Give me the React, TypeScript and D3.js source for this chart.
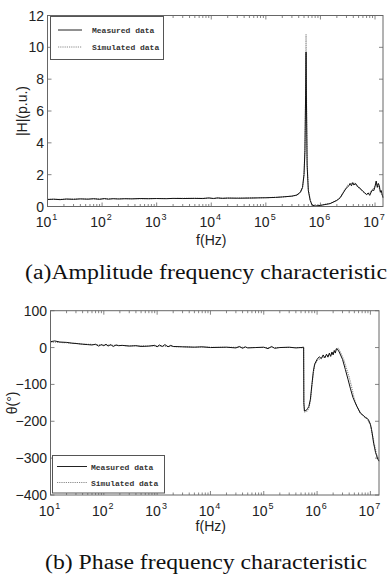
import React, { useEffect, useRef } from "react";
import * as d3 from "d3";

// amplitude, |H| in p.u.
const ampMeasFreq = [10, 13, 17, 22, 30, 40, 55, 70, 90, 110, 130, 160, 200, 260, 350, 500, 700, 1e3, 1.5e3, 2e3, 3e3, 5e3, 7e3, 9e3, 1.1e4, 1.3e4, 1.6e4, 2e4, 3e4, 5e4, 7e4, 1e5, 1.5e5, 2e5, 3e5, 3.7e5, 4.3e5, 4.7e5, 5e5, 5.2e5, 5.35e5, 5.45e5, 5.55e5, 5.7e5, 6e5, 6.5e5, 7e5, 8e5, 1e6, 1.5e6, 2e6, 2.3e6, 2.6e6, 2.9e6, 3.1e6, 3.3e6, 3.5e6, 3.7e6, 3.9e6, 4.1e6, 4.4e6, 4.8e6, 5.3e6, 6e6, 6.5e6, 7e6, 7.5e6, 8e6, 8.5e6, 9e6, 9.5e6, 1e7, 1.05e7, 1.1e7, 1.15e7, 1.2e7, 1.25e7, 1.3e7, 1.4e7];
const ampMeasured = [0.44, 0.46, 0.43, 0.47, 0.45, 0.48, 0.46, 0.49, 0.45, 0.5, 0.46, 0.49, 0.47, 0.49, 0.48, 0.5, 0.49, 0.5, 0.49, 0.51, 0.5, 0.51, 0.5, 0.54, 0.5, 0.54, 0.51, 0.53, 0.52, 0.53, 0.54, 0.55, 0.57, 0.6, 0.65, 0.72, 0.9, 1.2, 2.0, 3.5, 7.0, 9.7, 6.5, 2.6, 1.0, 0.38, 0.1, 0.02, 0.07, 0.18, 0.38, 0.55, 0.85, 1.1, 1.2, 1.3, 1.45, 1.3, 1.5, 1.35, 1.45, 1.25, 1.15, 0.95, 0.85, 0.75, 0.85, 0.7, 0.9, 1.05, 1.0, 1.25, 1.6, 1.2, 1.45, 1.3, 0.9, 1.0, 0.55];
const ampSimFreq = [10, 100, 1e3, 1e4, 1e5, 2e5, 3e5, 3.7e5, 4.3e5, 4.7e5, 5e5, 5.2e5, 5.35e5, 5.45e5, 5.55e5, 5.7e5, 6e5, 6.5e5, 7e5, 8e5, 1e6, 1.5e6, 2e6, 2.3e6, 2.6e6, 2.9e6, 3.2e6, 3.7e6, 4.2e6, 5e6, 6e6, 7e6, 8e6, 9e6, 1e7, 1.05e7, 1.15e7, 1.25e7, 1.4e7];
const ampSimulated = [0.45, 0.48, 0.5, 0.52, 0.55, 0.6, 0.65, 0.72, 0.9, 1.2, 2.0, 3.5, 7.0, 10.8, 7.0, 2.8, 1.1, 0.4, 0.12, 0.03, 0.08, 0.2, 0.4, 0.55, 0.85, 1.15, 1.35, 1.45, 1.45, 1.2, 0.95, 0.75, 0.85, 1.05, 1.3, 1.5, 1.3, 1.0, 0.55];

// phase, degrees
const phaseMeasFreq = [10, 12, 15, 20, 25, 30, 40, 50, 60, 70, 80, 90, 100, 110, 120, 135, 150, 170, 190, 220, 300, 400, 500, 700, 900, 1000, 1100, 1250, 1400, 1600, 1800, 2000, 3000, 5000, 7000, 1e4, 2e4, 3e4, 3.5e4, 4e4, 4.5e4, 5e4, 7e4, 1e5, 1.2e5, 1.4e5, 1.6e5, 2e5, 3e5, 4e5, 5e5, 5.6e5, 5.65e5, 5.8e5, 6.2e5, 6.6e5, 7e5, 7.5e5, 8e5, 8.5e5, 9e5, 1e6, 1.1e6, 1.2e6, 1.3e6, 1.4e6, 1.5e6, 1.6e6, 1.7e6, 1.8e6, 1.9e6, 2e6, 2.1e6, 2.2e6, 2.3e6, 2.4e6, 2.6e6, 3e6, 3.4e6, 3.8e6, 4.2e6, 4.7e6, 5.2e6, 5.6e6, 6.5e6, 7.5e6, 8e6, 8.7e6, 9.2e6, 1e7, 1.05e7, 1.1e7, 1.15e7, 1.2e7, 1.25e7, 1.3e7, 1.35e7, 1.45e7];
const phaseMeasured = [16, 18, 15, 14, 12, 11, 9, 8, 7, 9, 4, 8, 5, 9, 4, 8, 3, 7, 5, 6, 4, 5, 3, 4, 6, 2, 7, 3, 8, 2, 6, 3, 2, 1, 2, 0, 1, -1, 3, -2, 2, -1, 0, 1, -3, 3, -2, 0, 1, -1, 0, 1, -150, -172, -171, -166, -160, -140, -100, -65, -45, -32, -25, -30, -20, -28, -18, -26, -15, -24, -12, -20, -8, -15, -3, -4, -12, -32, -60, -86, -110, -135, -150, -160, -178, -185, -190, -192, -196, -208, -222, -240, -260, -272, -285, -292, -300, -308];
const phaseSimFreq = [10, 20, 50, 100, 300, 1e3, 3e3, 1e4, 1e5, 5e5, 5.6e5, 5.65e5, 5.8e5, 6.5e5, 7e5, 7.5e5, 8e5, 8.5e5, 9e5, 1e6, 1.2e6, 1.5e6, 2e6, 2.3e6, 2.5e6, 2.8e6, 3.2e6, 4e6, 4.5e6, 5e6, 5.6e6, 6.5e6, 7.5e6, 8.7e6, 1e7, 1.1e7, 1.2e7, 1.3e7, 1.45e7];
const phaseSimulated = [15, 13, 9, 7, 5, 4, 2, 1, 0, 0, -2, -160, -175, -172, -165, -145, -105, -70, -48, -35, -28, -23, -15, -6, -2, -15, -35, -80, -110, -140, -160, -178, -186, -193, -210, -240, -265, -288, -310];

const ampTicks = [0, 2, 4, 6, 8, 10, 12];
const phaseTicks = [100, 0, -100, -200, -300, -400];
const decades = [1, 2, 3, 4, 5, 6, 7];
const legendLabels = ["Measured data", "Simulated data"];

const sans = "'Liberation Sans', Arial, sans-serif";
const mono = "'Liberation Mono', 'Courier New', monospace";
const serif = "'Liberation Serif', 'Times New Roman', serif";
const frameColor = "#666";

type Panel = {
  x0: number; x1: number; y0: number; y1: number;
  xMax: number; yDomain: [number, number]; yTicks: number[];
  yLabel: string; yLabelX: number; yTickX: number;
  xTickY: number; xLabelY: number;
  series: { f: number[]; v: number[]; dotted: boolean }[];
  legend: { x: number; y: number; w: number; h: number; rowY: number[]; lx0: number; lx1: number; tx: number };
};

function drawPanel(svg: d3.Selection<SVGSVGElement, unknown, null, undefined>, p: Panel) {
  const x = d3.scaleLog().domain([10, p.xMax]).range([p.x0, p.x1]);
  const y = d3.scaleLinear().domain(p.yDomain).range([p.y1, p.y0]);
  const g = svg.append("g");

  g.append("rect")
    .attr("x", p.x0).attr("y", p.y0)
    .attr("width", p.x1 - p.x0).attr("height", p.y1 - p.y0)
    .attr("fill", "#fff");

  // log ticks, bottom and top, pointing inward
  const minor: number[] = [];
  for (let e = 1; e <= 7; e++) {
    for (let m = 2; m <= 9; m++) {
      const f = m * Math.pow(10, e);
      if (f <= p.xMax) minor.push(f);
    }
  }
  const tickG = g.append("g").attr("stroke", frameColor).attr("stroke-width", 0.8);
  decades.forEach((e) => {
    const xx = x(Math.pow(10, e));
    tickG.append("line").attr("x1", xx).attr("x2", xx).attr("y1", p.y1).attr("y2", p.y1 - 4);
    tickG.append("line").attr("x1", xx).attr("x2", xx).attr("y1", p.y0).attr("y2", p.y0 + 4);
  });
  minor.forEach((f) => {
    const xx = x(f);
    tickG.append("line").attr("x1", xx).attr("x2", xx).attr("y1", p.y1).attr("y2", p.y1 - 2.5);
    tickG.append("line").attr("x1", xx).attr("x2", xx).attr("y1", p.y0).attr("y2", p.y0 + 2.5);
  });
  p.yTicks.forEach((t) => {
    const yy = y(t);
    tickG.append("line").attr("x1", p.x0).attr("x2", p.x0 + 4).attr("y1", yy).attr("y2", yy);
    tickG.append("line").attr("x1", p.x1).attr("x2", p.x1 - 4).attr("y1", yy).attr("y2", yy);
  });

  // data
  const line = d3.line<[number, number]>().x((d) => x(d[0])).y((d) => y(d[1]));
  p.series.forEach((s) => {
    const pts: [number, number][] = s.f.map((f, i) => [f, s.v[i]]);
    g.append("path")
      .attr("d", line(pts))
      .attr("fill", "none")
      .attr("stroke", s.dotted ? "#8a8a8a" : "#111")
      .attr("stroke-width", s.dotted ? 1.1 : 1)
      .attr("stroke-dasharray", s.dotted ? "1.2,1" : null)
      .attr("stroke-linejoin", "round");
  });

  g.append("rect")
    .attr("x", p.x0).attr("y", p.y0)
    .attr("width", p.x1 - p.x0).attr("height", p.y1 - p.y0)
    .attr("fill", "none").attr("stroke", frameColor).attr("stroke-width", 1);

  // y tick labels
  p.yTicks.forEach((t) => {
    g.append("text")
      .attr("x", p.yTickX).attr("y", y(t) + 5)
      .attr("text-anchor", "end")
      .attr("font-family", sans).attr("font-size", 14).attr("fill", "#222")
      .text(d3.format("d")(t));
  });

  // x tick labels, 10^n
  decades.forEach((e) => {
    const t = g.append("text")
      .attr("x", x(Math.pow(10, e)) - 1).attr("y", p.xTickY)
      .attr("text-anchor", "middle")
      .attr("font-family", sans).attr("font-size", 14).attr("fill", "#222");
    t.append("tspan").text("10");
    t.append("tspan").attr("dy", -7).attr("dx", 1).attr("font-size", 9).text(String(e));
  });

  g.append("text")
    .attr("x", (p.x0 + p.x1) / 2 - 4).attr("y", p.xLabelY)
    .attr("text-anchor", "middle")
    .attr("font-family", sans).attr("font-size", 14).attr("fill", "#222")
    .text("f(Hz)");

  g.append("text")
    .attr("transform", `translate(${p.yLabelX},${(p.y0 + p.y1) / 2}) rotate(-90)`)
    .attr("text-anchor", "middle")
    .attr("font-family", sans).attr("font-size", 14).attr("fill", "#222")
    .text(p.yLabel);

  // legend
  const L = p.legend;
  g.append("rect")
    .attr("x", L.x).attr("y", L.y).attr("width", L.w).attr("height", L.h)
    .attr("fill", "#fff").attr("stroke", "#555").attr("stroke-width", 1);
  legendLabels.forEach((lab, i) => {
    const ly = L.rowY[i];
    g.append("line")
      .attr("x1", L.lx0).attr("x2", L.lx1).attr("y1", ly).attr("y2", ly)
      .attr("stroke", i === 0 ? "#222" : "#8a8a8a")
      .attr("stroke-width", 1)
      .attr("stroke-dasharray", i === 0 ? null : "1.2,1");
    g.append("text")
      .attr("x", L.tx).attr("y", ly + 3)
      .attr("font-family", mono).attr("font-size", 8).attr("font-weight", "bold")
      .attr("fill", "#333")
      .text(lab);
  });
}

export default function App() {
  const ref = useRef<SVGSVGElement>(null);

  useEffect(() => {
    const svg = d3.select(ref.current!);
    svg.selectAll("*").remove();

    drawPanel(svg, {
      x0: 47.5, x1: 383, y0: 15.5, y1: 206.5,
      xMax: 1.4e7, yDomain: [0, 12], yTicks: ampTicks,
      yLabel: "|H|(p.u.)", yLabelX: 27, yTickX: 44,
      xTickY: 227, xLabelY: 245,
      series: [
        { f: ampSimFreq, v: ampSimulated, dotted: true },
        { f: ampMeasFreq, v: ampMeasured, dotted: false },
      ],
      legend: { x: 50.5, y: 16.5, w: 113, h: 43, rowY: [30, 47], lx0: 58, lx1: 82, tx: 92 },
    });

    drawPanel(svg, {
      x0: 50.5, x1: 379, y0: 310.7, y1: 495,
      xMax: 1.45e7, yDomain: [-400, 100], yTicks: phaseTicks,
      yLabel: "θ(°)", yLabelX: 17, yTickX: 47,
      xTickY: 516, xLabelY: 531,
      series: [
        { f: phaseSimFreq, v: phaseSimulated, dotted: true },
        { f: phaseMeasFreq, v: phaseMeasured, dotted: false },
      ],
      legend: { x: 52.5, y: 455.5, w: 112, h: 37.5, rowY: [466.5, 482.5], lx0: 57, lx1: 87, tx: 91 },
    });

    svg.append("text")
      .attr("x", 25).attr("y", 279)
      .attr("font-family", serif).attr("font-size", 20).attr("fill", "#111")
      .attr("textLength", 362).attr("lengthAdjust", "spacingAndGlyphs")
      .text("(a)Amplitude frequency characteristic");

    svg.append("text")
      .attr("x", 45).attr("y", 569)
      .attr("font-family", serif).attr("font-size", 20).attr("fill", "#111")
      .attr("textLength", 322).attr("lengthAdjust", "spacingAndGlyphs")
      .text("(b) Phase frequency characteristic");
  }, []);

  return (
    <svg
      ref={ref}
      width={390}
      height={576}
      style={{ position: "absolute", left: 0, top: 0, background: "#fff" }}
    />
  );
}
